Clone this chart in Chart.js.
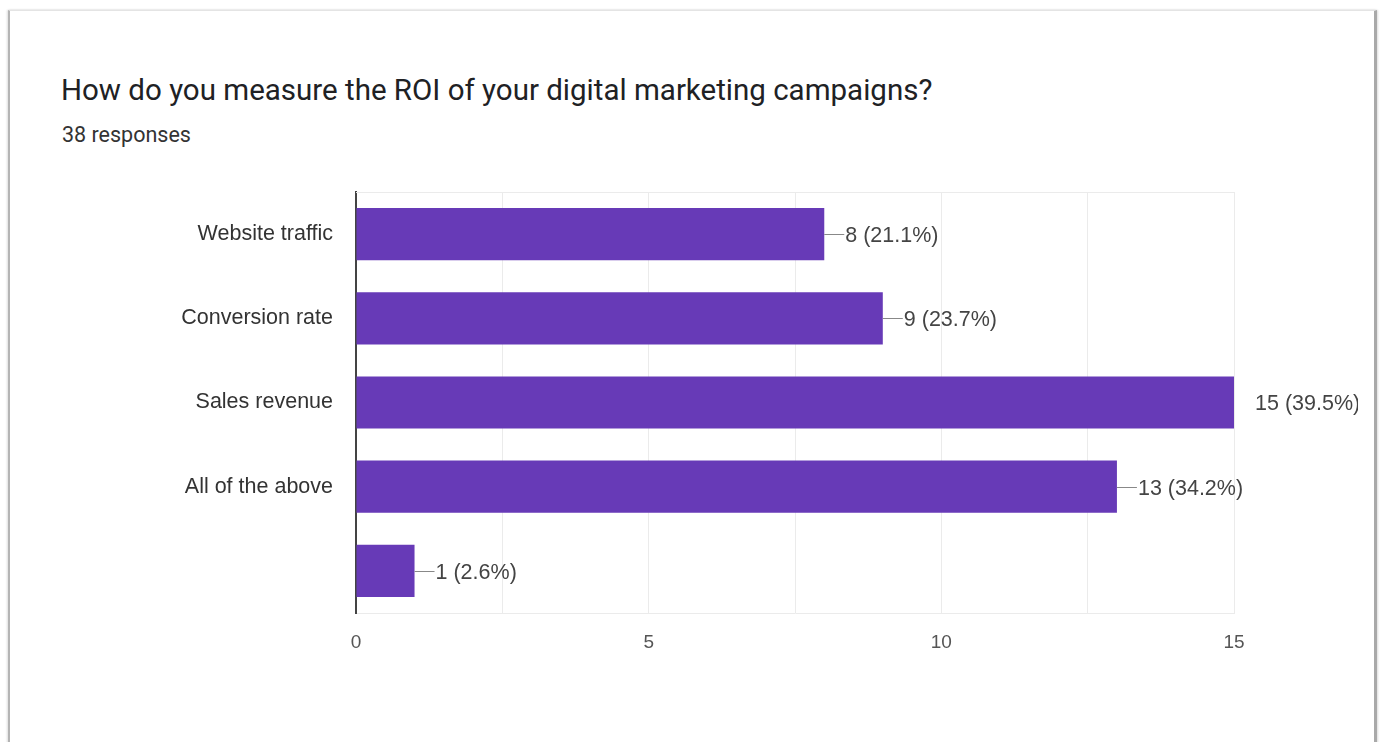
<!DOCTYPE html>
<html>
<head>
<meta charset="utf-8">
<script src="https://cdn.jsdelivr.net/npm/chart.js@4"></script>
<style>
  html, body { margin: 0; padding: 0; background: #fff; }
  body { width: 1381px; height: 742px; position: relative; overflow: hidden; }
  .card {
    position: absolute; left: 8px; top: 10px; width: 1369px; height: 740px;
    border-top: 1px solid #e4e4e4;
    border-left: 2px solid #b4b4b4;
    border-right: 3px solid #a9a9a9;
    box-shadow: -1px 0 2px #ddd, 1px 0 2px #ddd;
    box-sizing: border-box;
  }
  .title {
    position: absolute; left: 61px; top: 73px; margin: 0;
    font: 400 29.5px Roboto, sans-serif; color: #202124; white-space: nowrap;
  }
  .count {
    position: absolute; left: 62px; top: 122px;
    font: 400 21.5px Roboto, sans-serif; color: #333;
  }
  #wrap { position: absolute; left: 0; top: 0; width: 1358px; height: 742px; }
</style>
</head>
<body>
<div class="card"></div>
<h1 class="title">How do you measure the ROI of your digital marketing campaigns?</h1>
<div class="count">38 responses</div>
<div id="wrap"><canvas id="roiChart"></canvas></div>
<script>
const answers = ['Website traffic', 'Conversion rate', 'Sales revenue', 'All of the above', ''];
const counts = [8, 9, 15, 13, 1];
const totalResponses = 38;
const axisTicks = [0, 5, 10, 15];

const barColor = '#673ab7';
const labelFont = '21.5px "Liberation Sans", Arial, sans-serif';

// draws the thin top edge of the plot and the "n (pct%)" labels beside each bar
const valueLabels = {
  id: 'valueLabels',
  beforeDatasetsDraw(chart) {
    const { ctx, chartArea } = chart;
    ctx.save();
    ctx.strokeStyle = '#ebebeb';
    ctx.lineWidth = 1;
    ctx.beginPath();
    ctx.moveTo(chartArea.left, chartArea.top + 0.5);
    ctx.lineTo(chartArea.right, chartArea.top + 0.5);
    ctx.stroke();
    ctx.restore();
  },
  afterDatasetsDraw(chart) {
    const { ctx } = chart;
    const xMax = chart.scales.x.max;
    const meta = chart.getDatasetMeta(0);
    ctx.save();
    ctx.font = labelFont;
    ctx.textBaseline = 'middle';
    ctx.textAlign = 'left';
    meta.data.forEach((bar, i) => {
      const v = counts[i];
      const pct = (v / totalResponses * 100).toFixed(1);
      if (v < xMax) {
        ctx.strokeStyle = '#888';
        ctx.lineWidth = 1;
        ctx.beginPath();
        ctx.moveTo(bar.x, Math.round(bar.y) + 0.5);
        ctx.lineTo(bar.x + 20, Math.round(bar.y) + 0.5);
        ctx.stroke();
      }
      ctx.fillStyle = '#444';
      ctx.fillText(v + ' (' + pct + '%)', bar.x + 21, bar.y + 2);
    });
    ctx.restore();
  }
};

new Chart(document.getElementById('roiChart'), {
  type: 'bar',
  data: {
    labels: answers,
    datasets: [{
      data: counts,
      backgroundColor: barColor,
      borderWidth: 0,
      categoryPercentage: 1,
      barPercentage: 0.62
    }]
  },
  options: {
    indexAxis: 'y',
    responsive: true,
    maintainAspectRatio: false,
    animation: false,
    layout: { padding: { top: 192, right: 124, bottom: 79, left: 0 } },
    plugins: {
      legend: { display: false },
      tooltip: { enabled: false }
    },
    scales: {
      x: {
        min: 0,
        max: 15,
        afterFit(scale) { scale.height = 50; },
        afterBuildTicks(scale) {
          scale.ticks = [0, 2.5, 5, 7.5, 10, 12.5, 15].map(v => ({ value: v }));
        },
        ticks: {
          padding: 18,
          color: '#555',
          font: { family: '"Liberation Sans", Arial, sans-serif', size: 19 },
          callback: v => axisTicks.includes(v) ? String(v) : ''
        },
        grid: { color: '#ebebeb', drawTicks: false },
        border: { color: '#ebebeb' }
      },
      y: {
        afterFit(scale) { scale.width = 356; },
        ticks: {
          padding: 23,
          color: '#333',
          font: { family: '"Liberation Sans", Arial, sans-serif', size: 21.5 }
        },
        grid: { display: false, drawTicks: false },
        border: { color: '#444', width: 2 }
      }
    }
  },
  plugins: [valueLabels]
});
</script>
</body>
</html>
